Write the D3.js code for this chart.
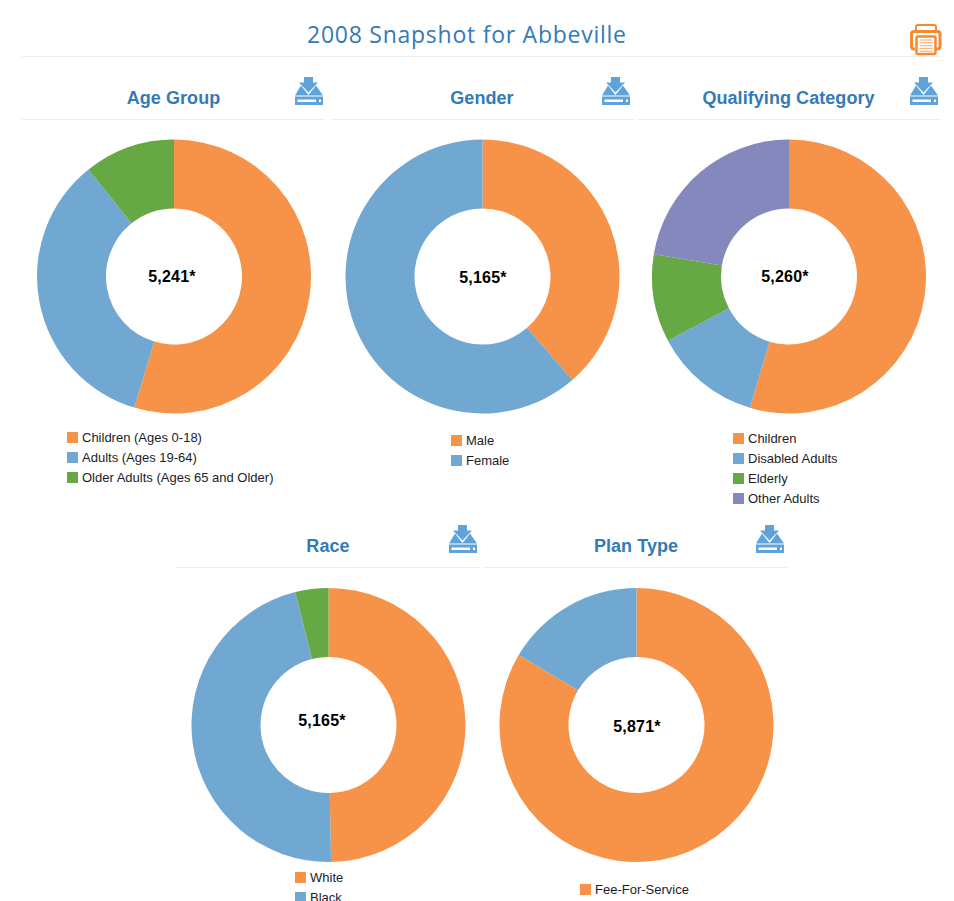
<!DOCTYPE html>
<html><head><meta charset="utf-8">
<script src="https://cdn.jsdelivr.net/npm/d3@7"></script>
<style>
html,body{margin:0;padding:0;background:#fff;overflow:hidden}
svg{display:block}
.title{font:400 23px "Open Sans",sans-serif;fill:#337ab7}
.head{font:bold 18px "Liberation Sans",Arial,sans-serif;fill:#337ab7;letter-spacing:.06px}
.legend{font:13px "Liberation Sans",Arial,sans-serif;fill:#1c1c28}
.total{font:bold 16px "Liberation Sans",Arial,sans-serif;fill:#000;letter-spacing:.2px}
</style></head><body>
<svg id="c" width="954" height="901"></svg>
<script>
const chartTitle = "2008 Snapshot for Abbeville";
const palette = ["#f79348","#71a8d2","#65a844","#8488bc"];

const ageLabels = ["Children (Ages 0-18)","Adults (Ages 19-64)","Older Adults (Ages 65 and Older)"];
const ageValues = [2866,1813,562];
const genderLabels = ["Male","Female"];
const genderValues = [1995,3170];
const categoryLabels = ["Children","Disabled Adults","Elderly","Other Adults"];
const categoryValues = [2872,665,544,1179];
const raceLabels = ["White","Black"];
const raceValues = [2567,2397,201];
const planLabels = ["Fee-For-Service"];
const planValues = [4904,967];

const panels = [
 {name:"Age Group",labels:ageLabels,values:ageValues,total:"5,241*",cx:174,cy:276.5,ruleY:119.5,r0:22,r1:325,ix:295,lx:67,ly:437.5,tx:172,ty:282},
 {name:"Gender",labels:genderLabels,values:genderValues,total:"5,165*",cx:482.5,cy:276.5,ruleY:119.5,r0:331,r1:634,ix:602,lx:451,ly:440.5,tx:483,ty:283},
 {name:"Qualifying Category",labels:categoryLabels,values:categoryValues,total:"5,260*",cx:789,cy:276.5,ruleY:119.5,r0:638,r1:941,ix:910,lx:733,ly:438.5,tx:785,ty:282},
 {name:"Race",labels:raceLabels,values:raceValues,total:"5,165*",cx:328.5,cy:725,ruleY:567.5,r0:176,r1:480,ix:449,lx:295,ly:877.5,tx:322,ty:726},
 {name:"Plan Type",labels:planLabels,values:planValues,total:"5,871*",cx:636.5,cy:725,ruleY:567.5,r0:484,r1:787,ix:756,lx:580,ly:889.5,tx:637,ty:732}
];

const svg = d3.select("#c");
svg.append("text").attr("class","title").attr("x",307).attr("y",43)
  .attr("textLength",319).attr("lengthAdjust","spacing").text(chartTitle);
svg.append("line").attr("x1",22).attr("x2",941).attr("y1",56.5).attr("y2",56.5).attr("stroke","#eee");

const pie = d3.pie().sort(null);
const arc = d3.arc().innerRadius(68).outerRadius(137);
const color = d3.scaleOrdinal().range(palette);

function drawDownload(g){
  g.attr("fill","#5fa3da");
  g.append("path").attr("d","M9 0H18V5.5H23L13.5 15.5L4 5.5H9Z");
  g.append("path").attr("d","M6 8.5L13.5 18L21 8.5L28 18.5H0Z");
  g.append("path").attr("fill-rule","evenodd").attr("d","M0 19.5H28V28H0ZM2.5 22.5V25H21V22.5ZM24 22.5V25H26V22.5Z");
}

panels.forEach(p=>{
  svg.append("text").attr("class","head").attr("x",p.cx-0.5).attr("y",p.ruleY-15.5).attr("text-anchor","middle").text(p.name);
  svg.append("line").attr("x1",p.r0).attr("x2",p.r1).attr("y1",p.ruleY).attr("y2",p.ruleY).attr("stroke","#eee");
  drawDownload(svg.append("g").attr("transform",`translate(${p.ix},${p.ruleY-42.5})`));

  const g = svg.append("g").attr("transform",`translate(${p.cx},${p.cy})`);
  g.selectAll("path").data(pie(p.values)).join("path")
    .attr("d",arc).attr("fill",(d,i)=>color(i));
  svg.append("text").attr("class","total").attr("x",p.tx).attr("y",p.ty).attr("text-anchor","middle").text(p.total);

  const row = svg.append("g").selectAll("g").data(p.labels).join("g")
    .attr("transform",(d,i)=>`translate(${p.lx},${p.ly+20*i})`);
  row.append("rect").attr("y",-5.5).attr("width",11).attr("height",11).attr("fill",(d,i)=>color(i));
  row.append("text").attr("class","legend").attr("x",15).attr("y",4).text(d=>d);
});

// printer icon
const pr = svg.append("g").attr("transform","translate(910,24)");
pr.append("path").attr("d","M6 7V3Q6 1 8 1H24Q26 1 26 3V7").attr("fill","none").attr("stroke","#f58a33").attr("stroke-width",2);
pr.append("path").attr("d","M5 25H4Q1.5 25 1.5 22V10Q1.5 7.5 4 7.5H27.5Q30 7.5 30 10V22Q30 25 27.5 25H26").attr("fill","none").attr("stroke","#f58a33").attr("stroke-width",3);
pr.append("rect").attr("x",6.5).attr("y",12.5).attr("width",19).attr("height",17.5).attr("rx",1.5).attr("fill","#fff").attr("stroke","#f58a33").attr("stroke-width",2.5);
pr.append("g").selectAll("line").data(d3.range(5)).join("line")
  .attr("x1",9.5).attr("x2",22.5).attr("y1",d=>16+d*2.8).attr("y2",d=>16+d*2.8).attr("stroke","#f9b27a").attr("stroke-width",1.2);
</script></body></html>
